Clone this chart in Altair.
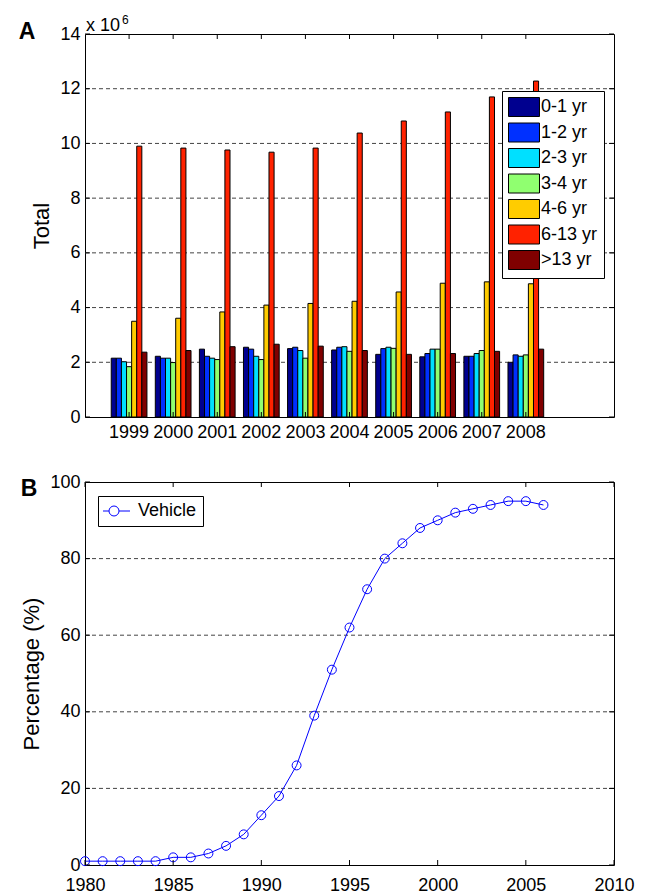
import altair as alt
import pandas as pd

# ---------------- data ----------------
years = ["1999", "2000", "2001", "2002", "2003", "2004", "2005", "2006", "2007", "2008"]
groups = ["0-1 yr", "1-2 yr", "2-3 yr", "3-4 yr", "4-6 yr", "6-13 yr", ">13 yr"]
# values in units of 10^6
v_0_1 = [2.15, 2.22, 2.48, 2.55, 2.50, 2.45, 2.29, 2.20, 2.22, 2.00]
v_1_2 = [2.15, 2.15, 2.22, 2.48, 2.55, 2.55, 2.50, 2.32, 2.22, 2.27]
v_2_3 = [2.02, 2.15, 2.15, 2.22, 2.43, 2.57, 2.55, 2.48, 2.32, 2.22]
v_3_4 = [1.84, 1.99, 2.10, 2.10, 2.15, 2.40, 2.51, 2.48, 2.43, 2.27]
v_4_6 = [3.50, 3.61, 3.84, 4.09, 4.15, 4.23, 4.57, 4.89, 4.94, 4.87]
v_6_13 = [9.90, 9.83, 9.76, 9.68, 9.83, 10.38, 10.82, 11.15, 11.70, 12.28]
v_13p = [2.37, 2.43, 2.57, 2.66, 2.59, 2.43, 2.29, 2.32, 2.40, 2.48]
series_a = [v_0_1, v_1_2, v_2_3, v_3_4, v_4_6, v_6_13, v_13p]
colors_a = ["#00008F", "#0030FF", "#00E0FF", "#90FF70", "#FFCC00", "#FF2200", "#800000"]

yticks_a = [0, 2, 4, 6, 8, 10, 12, 14]
grid_a = [2, 4, 6, 8, 10, 12]

veh_years = list(range(1980, 2007))
veh_pct = [1, 1, 1, 1, 1, 2, 2, 3, 5, 8, 13, 18, 26, 39, 51, 62, 72, 80, 84, 88,
           90, 92, 93, 94, 95, 95, 94]
xticks_b = [1980, 1985, 1990, 1995, 2000, 2005, 2010]
yticks_b = [0, 20, 40, 60, 80, 100]
grid_b = [20, 40, 60, 80]
panel_labels = ["A", "B"]
FONT = "Liberation Sans"

W, H = 529, 383

rows = []
for g, vals in zip(groups, series_a):
    for yr, v in zip(years, vals):
        rows.append({"year": yr, "group": g, "value": v})
dfA = pd.DataFrame(rows)

xscaleA = alt.Scale(domain=years, paddingInner=0, paddingOuter=1, align=0.25)
yscaleA = alt.Scale(domain=[0, 14], nice=False, zero=True)
xaxisA = alt.Axis(title=None, labelAngle=0, labelFontSize=18, labelPadding=6,
                  ticks=False, domain=False, grid=False, labelColor="black")
yaxisA = alt.Axis(values=yticks_a, title="Total", titleFontSize=22, titleFontWeight="normal",
                  titlePadding=6, labelFontSize=18, labelPadding=5, ticks=False,
                  domain=False, grid=False, labelColor="black", titleColor="black",
                  labelFlush=False)


def XA(field="year:N"):
    return alt.X(field, sort=years, scale=xscaleA, axis=xaxisA, title=None)


def YA(field):
    return alt.Y(field, scale=yscaleA, axis=yaxisA, title="Total")


gridA = alt.Chart(pd.DataFrame({"v": grid_a})).mark_rule(
    color="#444444", strokeWidth=1, strokeDash=[4, 3]
).encode(y=YA("v:Q"))

bars = alt.Chart(dfA).mark_bar(stroke="black", strokeWidth=1).encode(
    x=XA(),
    xOffset=alt.XOffset("group:N", sort=groups,
                        scale=alt.Scale(domain=groups, paddingInner=0, paddingOuter=0.82)),
    y=YA("value:Q"),
    color=alt.Color("group:N", sort=groups,
                    scale=alt.Scale(domain=groups, range=colors_a),
                    legend=alt.Legend(title=None, orient="none", legendX=417, legendY=57,
                                      fillColor="white", strokeColor="black", padding=6,
                                      symbolType="M-1,-1H2.263V1H-1Z", symbolSize=361,
                                      symbolStrokeColor="black", symbolStrokeWidth=1,
                                      symbolOpacity=1,
                                      labelFontSize=18, labelOffset=13, rowPadding=1.5,
                                      labelColor="black")),
)

tickYA = pd.DataFrame({"v": yticks_a})
ltA = alt.Chart(tickYA).mark_rule(color="black").encode(
    y=YA("v:Q"), x=alt.value(0), x2=alt.value(5))
rtA = alt.Chart(tickYA).mark_rule(color="black").encode(
    y=YA("v:Q"), x=alt.value(W - 5), x2=alt.value(W))
tickXA = pd.DataFrame({"year": years})
btA = alt.Chart(tickXA).mark_rule(color="black").encode(
    x=XA(), y=alt.value(H - 5), y2=alt.value(H))
ttA = alt.Chart(tickXA).mark_rule(color="black").encode(
    x=XA(), y=alt.value(0), y2=alt.value(5))

labA = alt.Chart(pd.DataFrame({"t": [panel_labels[0]]})).mark_text(
    fontSize=23, fontWeight="bold", align="center", baseline="alphabetic", color="black"
).encode(text="t:N", x=alt.value(-58), y=alt.value(5))
expA = alt.Chart(pd.DataFrame({"t": ["x 10"]})).mark_text(
    fontSize=18, align="left", baseline="alphabetic", color="black"
).encode(text="t:N", x=alt.value(1), y=alt.value(-3))
expA6 = alt.Chart(pd.DataFrame({"t": ["6"]})).mark_text(
    fontSize=12, align="left", baseline="alphabetic", color="black"
).encode(text="t:N", x=alt.value(37), y=alt.value(-10))

panelA = alt.layer(gridA, bars, ltA, rtA, btA, ttA, labA, expA, expA6).properties(width=W, height=H)

# ---------------- panel B ----------------
dfB = pd.DataFrame({"year": veh_years, "pct": veh_pct, "series": ["Vehicle"] * len(veh_years)})
xscaleB = alt.Scale(domain=[1980, 2010], nice=False, zero=False)
yscaleB = alt.Scale(domain=[0, 100], nice=False)
xaxisB = alt.Axis(values=xticks_b, format="d", title=None, labelFontSize=18, labelPadding=11,
                  ticks=False, domain=False, grid=False, labelColor="black", labelFlush=False)
yaxisB = alt.Axis(values=yticks_b, title="Percentage (%)", titleFontSize=22,
                  titleFontWeight="normal", titlePadding=6, labelFontSize=18, labelPadding=5,
                  ticks=False, domain=False, grid=False, labelColor="black",
                  titleColor="black", labelFlush=False)


def XB(field):
    return alt.X(field, scale=xscaleB, axis=xaxisB, title=None)


def YB(field):
    return alt.Y(field, scale=yscaleB, axis=yaxisB, title="Percentage (%)")


gridB = alt.Chart(pd.DataFrame({"v": grid_b})).mark_rule(
    color="#444444", strokeWidth=1, strokeDash=[4, 3]
).encode(y=YB("v:Q"))

line = alt.Chart(dfB).mark_line(
    strokeWidth=1,
    point=alt.OverlayMarkDef(filled=False, size=80, strokeWidth=1, fill="transparent"),
).encode(
    x=XB("year:Q"),
    y=YB("pct:Q"),
    color=alt.Color("series:N", scale=alt.Scale(domain=["Vehicle"], range=["#0000FF"]),
                    legend=alt.Legend(title=None, orient="none", legendX=13, legendY=14,
                                      fillColor="white", strokeColor="black", padding=6,
                                      symbolType="M-2,0H-0.8M1.2,0H3.4M-0.8,0A1,1 0 1,0 1.2,0A1,1 0 1,0 -0.8,0",
                                      symbolSize=100, symbolStrokeWidth=1,
                                      symbolFillColor="transparent",
                                      labelFontSize=18, labelOffset=16, labelColor="black")),
)

tickYB = pd.DataFrame({"v": yticks_b})
ltB = alt.Chart(tickYB).mark_rule(color="black").encode(
    y=YB("v:Q"), x=alt.value(0), x2=alt.value(5))
rtB = alt.Chart(tickYB).mark_rule(color="black").encode(
    y=YB("v:Q"), x=alt.value(W - 5), x2=alt.value(W))
tickXB = pd.DataFrame({"year": xticks_b})
btB = alt.Chart(tickXB).mark_rule(color="black").encode(
    x=XB("year:Q"), y=alt.value(H - 5), y2=alt.value(H))
ttB = alt.Chart(tickXB).mark_rule(color="black").encode(
    x=XB("year:Q"), y=alt.value(0), y2=alt.value(5))

labB = alt.Chart(pd.DataFrame({"t": [panel_labels[1]]})).mark_text(
    fontSize=23, fontWeight="bold", align="center", baseline="alphabetic", color="black"
).encode(text="t:N", x=alt.value(-56), y=alt.value(14))

panelB = alt.layer(gridB, line, ltB, rtB, btB, ttB, labB).properties(width=W, height=H)

chart = alt.vconcat(panelA, panelB, spacing=65, bounds="flush").resolve_scale(
    color="independent"
).configure(font=FONT).configure_view(
    stroke="black", strokeWidth=1
).configure_legend(labelFont=FONT).properties(
    padding={"left": 18, "top": 13, "right": 5, "bottom": 5}
)

chart.save("out.html", embed_options={"renderer": "svg", "actions": False})
